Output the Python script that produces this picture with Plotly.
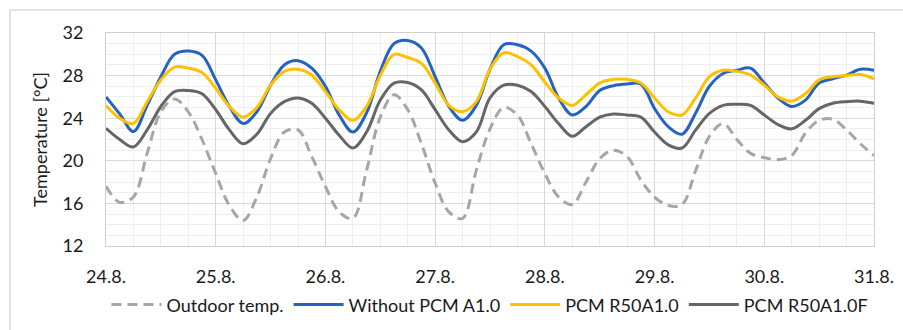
import plotly.graph_objects as go
import pandas as pd

# 3-hourly samples from 24.8. 00:00 to 31.8. 00:00
times = pd.date_range("2020-08-24 00:00", "2020-08-31 00:00", freq="3h")

outdoor = [17.6, 16.1, 16.6, 20.7, 24.6, 25.8, 24.6, 22.0,
           18.8, 15.8, 14.4, 16.6, 20.2, 22.7, 22.9, 20.4,
           17.6, 15.2, 14.6, 19.1, 24.1, 26.2, 24.8, 21.6,
           17.9, 15.2, 14.6, 19.1, 23.0, 25.0, 24.3, 21.6,
           18.8, 16.6, 15.9, 18.0, 20.2, 21.0, 20.4, 18.2,
           16.6, 15.8, 15.9, 19.1, 22.3, 23.5, 22.0, 20.7,
           20.3, 20.1, 20.5, 22.6, 23.8, 23.9, 22.9, 21.6,
           20.5]

without_pcm = [26.0, 24.4, 22.75, 25.2, 27.9, 30.0, 30.3, 29.9,
               27.6, 25.1, 23.5, 24.6, 27.1, 29.0, 29.4, 28.7,
               27.0, 24.3, 22.7, 24.5, 28.4, 31.0, 31.3, 30.6,
               27.9, 25.1, 23.8, 25.2, 28.6, 30.9, 30.9, 30.3,
               28.7, 25.9, 24.3, 25.1, 26.6, 27.05, 27.2, 27.2,
               24.9, 23.2, 22.5, 24.5, 27.0, 28.2, 28.5, 28.7,
               27.3, 25.9, 25.1, 25.7, 27.3, 27.7, 28.05, 28.6,
               28.5]

pcm_r50 = [25.2, 24.0, 23.5, 25.55, 27.6, 28.8, 28.7, 28.3,
           26.8, 25.1, 24.1, 25.0, 27.1, 28.4, 28.6, 28.05,
           26.5, 24.8, 23.8, 25.1, 28.0, 30.0, 29.7, 29.15,
           27.3, 25.2, 24.6, 25.55, 28.6, 30.15, 29.8, 29.0,
           27.4, 25.9, 25.2, 26.2, 27.3, 27.65, 27.65, 27.3,
           25.9, 24.6, 24.3, 25.9, 27.9, 28.5, 28.4, 28.05,
           27.1, 26.0, 25.6, 26.3, 27.6, 27.9, 28.0, 28.1,
           27.7]

pcm_r50f = [23.05, 22.0, 21.3, 22.9, 25.1, 26.5, 26.6, 26.3,
            24.8, 22.9, 21.6, 22.5, 24.45, 25.55, 25.9, 25.4,
            24.0, 22.4, 21.2, 22.7, 25.7, 27.3, 27.35, 26.65,
            24.8, 22.9, 21.8, 22.7, 25.9, 27.1, 27.1, 26.5,
            25.1, 23.5, 22.3, 23.2, 24.1, 24.4, 24.3, 24.1,
            22.7, 21.5, 21.2, 22.9, 24.45, 25.2, 25.3, 25.2,
            24.3, 23.4, 23.0, 23.8, 24.9, 25.4, 25.55, 25.6,
            25.4]

series_names = ["Outdoor temp.", "Without PCM A1.0", "PCM R50A1.0", "PCM R50A1.0F"]
series_colors = ["#A6A6A6", "#2563C3", "#FFC000", "#666666"]
series_dash = ["10px,6px", "solid", "solid", "solid"]
y_ticks = [12, 16, 20, 24, 28, 32]

FONT = "Lato"
fig = go.Figure()
for name, vals, col, dash in zip(series_names, [outdoor, without_pcm, pcm_r50, pcm_r50f],
                                 series_colors, series_dash):
    fig.add_trace(go.Scatter(x=times, y=vals, mode="lines", name=name,
                             line=dict(color=col, width=3, dash=dash, shape="spline", smoothing=1.0)))

fig.update_layout(
    width=903, height=330,
    margin=dict(l=106, r=29, t=33, b=84, autoexpand=False),
    paper_bgcolor="white", plot_bgcolor="white",
    font=dict(family=FONT, size=17, color="#1a1a1a"),
    showlegend=True,
    legend=dict(orientation="h", x=0.5, xanchor="center",
                yref="container", y=0.076, yanchor="middle",
                font=dict(size=18), itemwidth=50, tracegroupgap=0),
    shapes=[dict(type="rect", xref="paper", yref="paper",
                 x0=-0.125, x1=1.05, y0=-0.5, y1=1.108,
                 line=dict(color="#D9D9D9", width=1.5), layer="below")],
)
fig.update_xaxes(
    range=[times[0], times[-1]], type="date",
    dtick=86400000, tick0=times[0], tickformat="%-d.%-m.",
    showgrid=True, gridcolor="#D9D9D9", gridwidth=1,
    minor=dict(dtick=21600000, showgrid=True, gridcolor="#EFEFEF", gridwidth=1),
    showline=True, linecolor="#D0D0D0", linewidth=1, mirror=True,
    ticks="", ticklabelstandoff=14, zeroline=False, tickfont=dict(size=18),
)
fig.update_yaxes(
    range=[12, 32], tickvals=y_ticks,
    showgrid=True, gridcolor="#D9D9D9", gridwidth=1,
    minor=dict(dtick=1, showgrid=True, gridcolor="#EFEFEF", gridwidth=1),
    showline=True, linecolor="#D0D0D0", linewidth=1, mirror=True,
    ticks="", ticklabelstandoff=18, zeroline=False, tickfont=dict(size=18),
    title=dict(text="Temperature [°C]", standoff=10, font=dict(size=18)),
)
fig.write_html("out.html")
